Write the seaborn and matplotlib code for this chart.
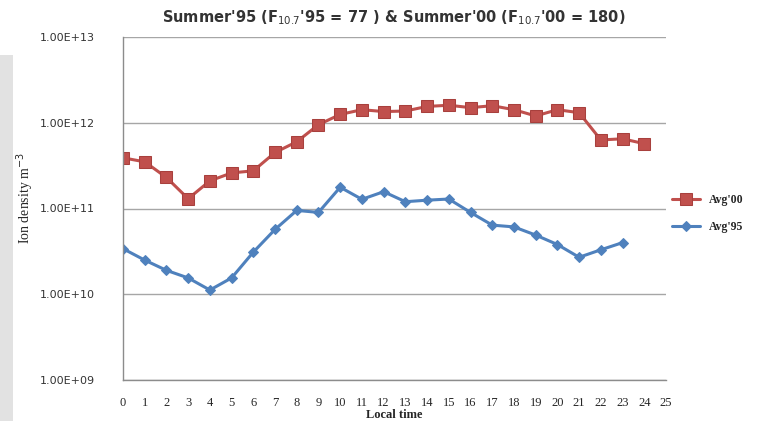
import numpy as np
import pandas as pd
import matplotlib
matplotlib.use("Agg")
import matplotlib.pyplot as plt
import seaborn as sns
from matplotlib.ticker import FuncFormatter, LogLocator, NullLocator
from matplotlib.patches import Rectangle

# Local time (hours)
hours_00 = list(range(0, 25))
hours_95 = list(range(0, 24))

# Avg'00 ion density (m^-3)
avg_00 = [3.9e11, 3.5e11, 2.3e11, 1.3e11, 2.1e11, 2.6e11, 2.75e11, 4.5e11, 6.0e11,
          9.5e11, 1.25e12, 1.42e12, 1.35e12, 1.37e12, 1.55e12, 1.6e12, 1.5e12,
          1.58e12, 1.42e12, 1.2e12, 1.42e12, 1.31e12, 6.3e11, 6.5e11, 5.7e11]

# Avg'95 ion density (m^-3)
avg_95 = [3.4e10, 2.5e10, 1.9e10, 1.55e10, 1.12e10, 1.55e10, 3.1e10, 5.7e10, 9.5e10,
          9.0e10, 1.77e11, 1.28e11, 1.57e11, 1.2e11, 1.25e11, 1.29e11, 9.0e10,
          6.4e10, 6.1e10, 4.9e10, 3.8e10, 2.7e10, 3.3e10, 4.0e10]

df00 = pd.DataFrame({"time": hours_00, "density": avg_00})
df95 = pd.DataFrame({"time": hours_95, "density": avg_95})

sns.set_style("white")

fig = plt.figure(figsize=(7.57, 4.21), dpi=100)
# light grey band on the left edge, as in the source image
fig.patches.append(Rectangle((0, 0), 13 / 757, 1 - 55 / 421, transform=fig.transFigure,
                             facecolor="#e2e2e2", edgecolor="none", zorder=0))

ax = fig.add_axes([123 / 757, 1 - 380 / 421, (666 - 123) / 757, (380 - 37) / 421])
ax.patch.set_alpha(0)

sns.lineplot(data=df00, x="time", y="density", ax=ax, color="#C0504D", linewidth=2.2,
             marker="s", markersize=8, markeredgecolor="#A8403D", label="Avg'00")
sns.lineplot(data=df95, x="time", y="density", ax=ax, color="#4F81BD", linewidth=2.2,
             marker="D", markersize=5, markeredgecolor="#4F81BD", label="Avg'95")

ax.set_yscale("log")
ax.set_ylim(1e9, 1e13)
ax.set_xlim(0, 25)
ax.set_xticks(range(0, 26))
ax.yaxis.set_major_locator(LogLocator(base=10, numticks=10))
ax.yaxis.set_minor_locator(NullLocator())
ax.yaxis.set_major_formatter(FuncFormatter(lambda v, p: "1.00E+%02d" % round(np.log10(v))))

ax.grid(axis="y", color="#a6a6a6", linewidth=1.0)
for s in ["top", "right"]:
    ax.spines[s].set_visible(False)
for s in ["left", "bottom"]:
    ax.spines[s].set_color("#8c8c8c")
    ax.spines[s].set_linewidth(1.0)

ax.tick_params(axis="both", which="major", direction="out", length=4, width=0.8,
               color="#8c8c8c")
ax.tick_params(axis="y", pad=16, labelsize=8, labelcolor="#333333")
ax.tick_params(axis="x", pad=8, labelsize=9)
for lab in ax.get_xticklabels():
    lab.set_family("Liberation Serif")

ax.set_xlabel("Local time", fontsize=9, fontweight="bold", family="Liberation Serif", labelpad=0)
ax.set_ylabel("Ion density m$^{-3}$", fontsize=10, family="Liberation Serif")
ax.yaxis.set_label_coords(-0.160, 0.53)

fig.text(394 / 757, 1 - 18 / 421,
         "Summer'95 (F$_{10.7}$'95 = 77 ) & Summer'00 (F$_{10.7}$'00 = 180)",
         ha="center", va="center", fontsize=10.5, fontweight="bold", color="#333333")

leg = ax.legend(loc="center left", bbox_to_anchor=(0.995, 0.485), frameon=False,
                prop={"family": "Liberation Serif", "weight": "bold", "size": 8.5},
                handlelength=2.4, handletextpad=0.8, labelspacing=1.3,
                borderaxespad=0.3)

fig.savefig("out.png", dpi=100)
